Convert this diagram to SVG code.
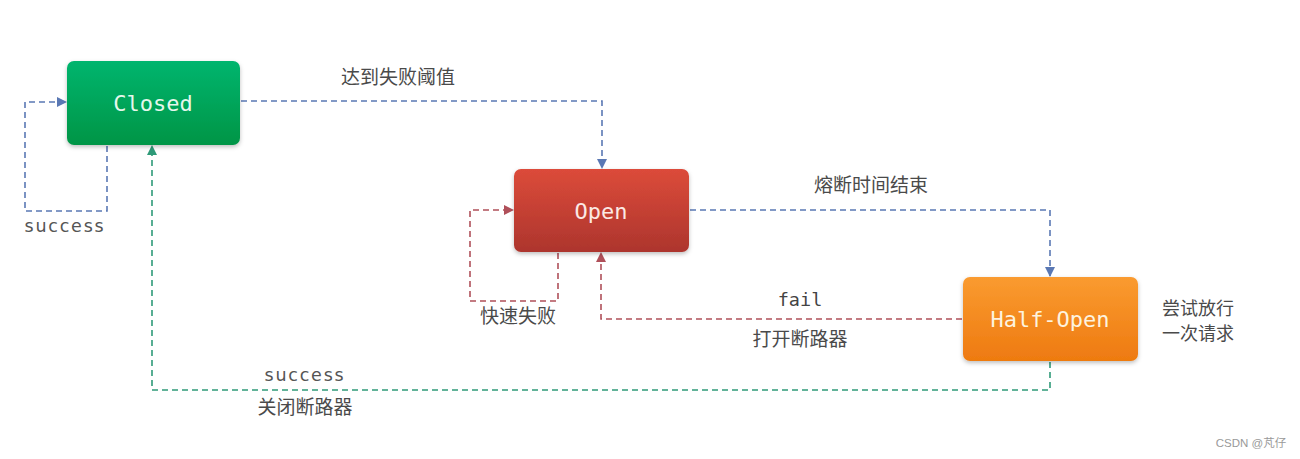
<svg xmlns="http://www.w3.org/2000/svg" width="1300" height="459" viewBox="0 0 1300 459">
<style>
.lbl{font-family:"Noto Sans","Noto Sans CJK SC",sans-serif;font-size:19px;fill:#4a4a4a;text-anchor:middle}
.en{font-family:"DejaVu Sans",sans-serif;font-size:17.5px;letter-spacing:1.8px;fill:#555;text-anchor:middle}
.mono{font-family:"DejaVu Sans Mono","Liberation Mono",monospace;font-size:18.5px;fill:#444;text-anchor:middle}
.node{font-family:"DejaVu Sans Mono","Liberation Mono",monospace;font-size:22px;text-anchor:middle}
.c{fill:none;stroke-width:1.6;stroke-dasharray:6 4}
.blue{stroke:#5a78b4}
.red{stroke:#b0505a}
.green{stroke:#2f9a78}
</style>
<defs>
<linearGradient id="gG" x1="0" y1="0" x2="0" y2="1"><stop offset="0" stop-color="#00b56e"/><stop offset="1" stop-color="#009546"/></linearGradient>
<linearGradient id="gR" x1="0" y1="0" x2="0" y2="1"><stop offset="0" stop-color="#dc4b3a"/><stop offset="1" stop-color="#ad352d"/></linearGradient>
<linearGradient id="gO" x1="0" y1="0" x2="0" y2="1"><stop offset="0" stop-color="#fa9b30"/><stop offset="1" stop-color="#ee7a10"/></linearGradient>
<filter id="sh" x="-10%" y="-10%" width="120%" height="130%"><feDropShadow dx="0" dy="2" stdDeviation="2" flood-color="#000" flood-opacity="0.25"/></filter>
<marker id="aB" markerWidth="10" markerHeight="10" refX="9" refY="5" orient="auto" markerUnits="userSpaceOnUse"><path d="M0,0 L10,5 L0,10 z" fill="#5a78b4"/></marker>
<marker id="aR" markerWidth="10" markerHeight="10" refX="9" refY="5" orient="auto" markerUnits="userSpaceOnUse"><path d="M0,0 L10,5 L0,10 z" fill="#b0505a"/></marker>
<marker id="aG" markerWidth="10" markerHeight="10" refX="9" refY="5" orient="auto" markerUnits="userSpaceOnUse"><path d="M0,0 L10,5 L0,10 z" fill="#2f9a78"/></marker>
</defs>
<rect width="1300" height="459" fill="#fff"/>
<g id="connectors">
<path class="c blue" d="M107,146 V211 H25 V102 H66" marker-end="url(#aB)"/>
<path class="c blue" d="M241,101 H602 V168" marker-end="url(#aB)"/>
<path class="c red" d="M558,253 V301 H470 V210 H513" marker-end="url(#aR)"/>
<path class="c blue" d="M690,210 H1050 V276" marker-end="url(#aB)"/>
<path class="c red" d="M962,319 H601 V253" marker-end="url(#aR)"/>
<path class="c green" d="M1050,362 V390 H152 V146" marker-end="url(#aG)"/>
</g>
<g id="closed"><rect x="67" y="61" width="173" height="84" rx="7" fill="url(#gG)" filter="url(#sh)"/><text class="node" x="153" y="111" fill="#e6f7ec">Closed</text></g>
<g id="open"><rect x="514" y="169" width="175" height="83" rx="7" fill="url(#gR)" filter="url(#sh)"/><text class="node" x="601" y="219" fill="#fbe9e4">Open</text></g>
<g id="half-open"><rect x="963" y="277" width="175" height="84" rx="7" fill="url(#gO)" filter="url(#sh)"/><text class="node" x="1050" y="327" fill="#fdf3df">Half-Open</text></g>
<g id="labels">
<text class="lbl" x="398" y="84">达到失败阈值</text>
<text class="en" x="65" y="232">success</text>
<text class="lbl" x="871" y="192">熔断时间结束</text>
<text class="lbl" x="518" y="323">快速失败</text>
<text class="mono" x="800" y="306">fail</text>
<text class="lbl" x="800" y="346">打开断路器</text>
<text class="lbl" x="1198" y="315" style="font-size:18px">尝试放行</text>
<text class="lbl" x="1198" y="340" style="font-size:18px">一次请求</text>
<text class="en" x="305" y="381">success</text>
<text class="lbl" x="305" y="414">关闭断路器</text>
<text x="1251" y="447" style="font-family:'Liberation Sans','Noto Sans CJK SC',sans-serif;font-size:11.5px;fill:#999;text-anchor:middle">CSDN @芃仔</text>
</g>
</svg>
